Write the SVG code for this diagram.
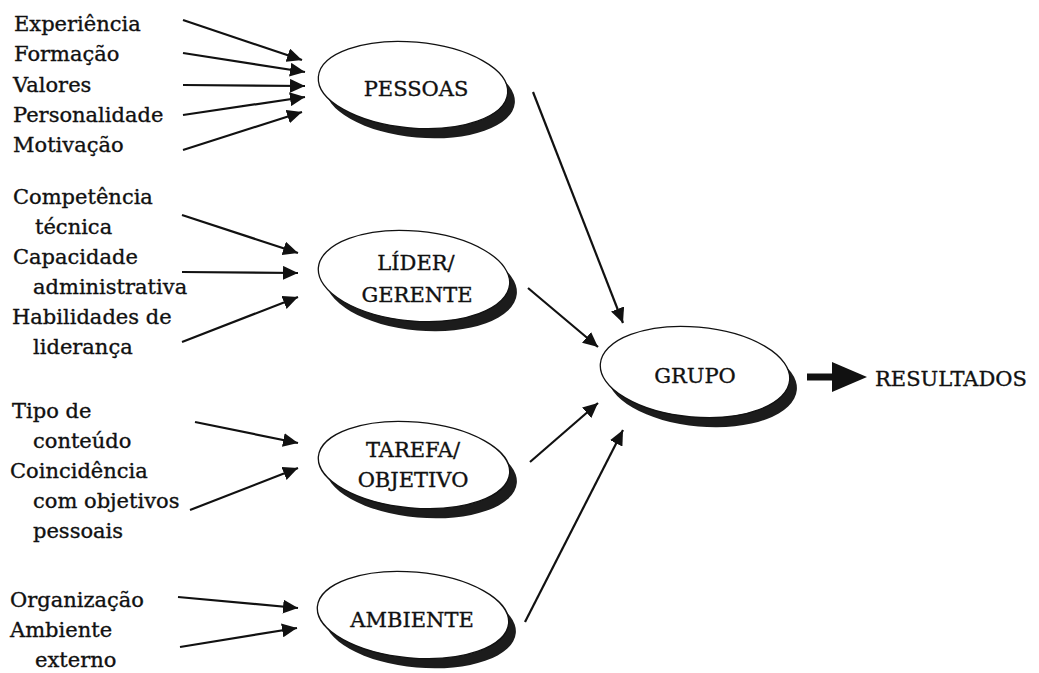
<svg xmlns="http://www.w3.org/2000/svg" width="1039" height="673" viewBox="0 0 1039 673">
<defs>
<style>
text{font-family:"DejaVu Serif","Liberation Serif",serif;font-size:21px;fill:#111;stroke:#111;stroke-width:0.35;}
.node text{text-anchor:middle;}
.shadow{fill:#1c1c1c;}
.body{fill:#fff;stroke:#111;stroke-width:1.3;}
.conn line{stroke:#111;stroke-width:2.2;marker-end:url(#ah);}
</style>
<marker id="ah" markerUnits="userSpaceOnUse" markerWidth="16" markerHeight="14" viewBox="0 0 16 14" refX="15" refY="7" orient="auto">
<path d="M0,0 L15,7 L0,14 Z" fill="#111"/>
</marker>
</defs>
<rect width="1039" height="673" fill="#fff"/>

<g id="labels">
<text x="14" y="31">Experiência</text>
<text x="14" y="61">Formação</text>
<text x="13" y="92">Valores</text>
<text x="13" y="122">Personalidade</text>
<text x="13" y="152">Motivação</text>

<text x="13" y="204">Competência</text>
<text x="35" y="234">técnica</text>
<text x="13" y="264">Capacidade</text>
<text x="33" y="294">administrativa</text>
<text x="12" y="324">Habilidades de</text>
<text x="33" y="354">liderança</text>

<text x="12" y="418">Tipo de</text>
<text x="33" y="448">conteúdo</text>
<text x="10" y="478">Coincidência</text>
<text x="33" y="508">com objetivos</text>
<text x="33" y="538">pessoais</text>

<text x="10" y="607">Organização</text>
<text x="10" y="637">Ambiente</text>
<text x="35" y="667">externo</text>
</g>

<g id="pessoas" class="node">
<g transform="rotate(5 413 85)">
<ellipse class="shadow" cx="421" cy="94" rx="95" ry="43"/>
<ellipse class="body" cx="413" cy="85" rx="95" ry="43"/>
</g>
<text x="416" y="96">PESSOAS</text>
</g>

<g id="lider" class="node">
<g transform="rotate(5 414 276)">
<ellipse class="shadow" cx="422" cy="285" rx="96" ry="45"/>
<ellipse class="body" cx="414" cy="276" rx="96" ry="45"/>
</g>
<text x="416" y="270">LÍDER/</text>
<text x="417" y="302">GERENTE</text>
</g>

<g id="tarefa" class="node">
<g transform="rotate(5 414 465)">
<ellipse class="shadow" cx="422" cy="474" rx="96" ry="43"/>
<ellipse class="body" cx="414" cy="465" rx="96" ry="43"/>
</g>
<text x="413" y="457">TAREFA/</text>
<text x="413" y="487">OBJETIVO</text>
</g>

<g id="ambiente" class="node">
<g transform="rotate(5 413 615)">
<ellipse class="shadow" cx="421" cy="624" rx="96" ry="43"/>
<ellipse class="body" cx="413" cy="615" rx="96" ry="43"/>
</g>
<text x="412" y="627">AMBIENTE</text>
</g>

<g id="grupo" class="node">
<g transform="rotate(5 695 372)">
<ellipse class="shadow" cx="703" cy="381" rx="95" ry="45"/>
<ellipse class="body" cx="695" cy="372" rx="95" ry="45"/>
</g>
<text x="695" y="383">GRUPO</text>
</g>

<g id="resultados">
<text x="875" y="386">RESULTADOS</text>
</g>

<g id="connectors" class="conn">
<line x1="183" y1="20" x2="302" y2="60"/>
<line x1="183" y1="53" x2="305" y2="72"/>
<line x1="183" y1="85" x2="305" y2="86"/>
<line x1="183" y1="115" x2="305" y2="97"/>
<line x1="183" y1="150" x2="302" y2="112"/>

<line x1="182" y1="215" x2="298" y2="253"/>
<line x1="182" y1="272" x2="298" y2="273"/>
<line x1="182" y1="342" x2="298" y2="297"/>

<line x1="195" y1="422" x2="298" y2="443"/>
<line x1="190" y1="510" x2="298" y2="468"/>

<line x1="178" y1="597" x2="298" y2="608"/>
<line x1="180" y1="647" x2="297" y2="628"/>

<line x1="533" y1="92" x2="623" y2="323"/>
<line x1="528" y1="288" x2="598" y2="347"/>
<line x1="530" y1="462" x2="598" y2="403"/>
<line x1="525" y1="622" x2="623" y2="430"/>

<g id="thick-arrow">
<line x1="807" y1="377" x2="836" y2="377" style="stroke-width:7;marker-end:none"/>
<polygon points="832,362 867,377 832,392" fill="#111"/>
</g>
</g>
</svg>
